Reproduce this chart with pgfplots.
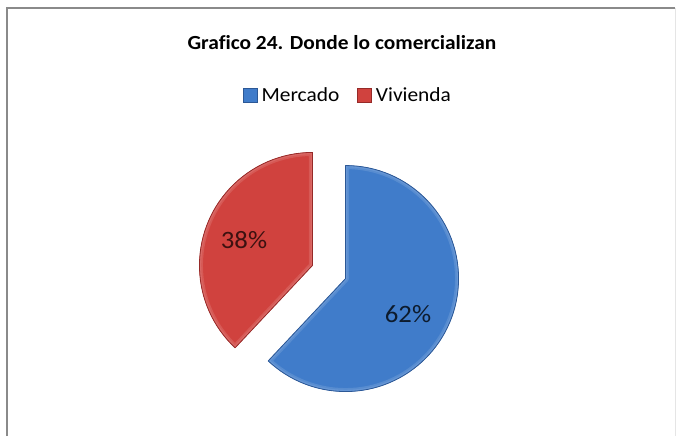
\documentclass[border=0pt]{standalone}
\usepackage{pgfplots}
\pgfplotsset{compat=1.18}
\usepackage{fontspec}
\setmainfont{Carlito}[FakeStretch=1.07, Ligatures=NoCommon]

\definecolor{pieblue}{RGB}{64,124,202}
\definecolor{pieblueD}{RGB}{44,88,150}
\definecolor{piered}{RGB}{208,66,62}
\definecolor{pieredD}{RGB}{150,42,40}
\definecolor{framegray}{RGB}{138,138,138}

% shares (percent)
\def\vMercado{62}
\def\vVivienda{38}

\begin{document}
\begin{tikzpicture}
% angles: start at the top, clockwise
\pgfmathsetmacro\aS{90}
\pgfmathsetmacro\aM{90-\vMercado*3.6}
\pgfmathsetmacro\aE{\aM-\vVivienda*3.6}
\pgfmathsetmacro\mA{(\aS+\aM)/2}
\pgfmathsetmacro\mB{(\aM+\aE)/2}
% slice outlines, each pulled 17.8 out of the centre
\def\sliceA{(axis cs:329,164) ++(\mA:17.8pt) -- ++(\aS:113pt)
    arc[start angle=\aS, end angle=\aM, radius=113pt] -- cycle}
\def\sliceB{(axis cs:329,164) ++(\mB:17.8pt) -- ++(\aM:113pt)
    arc[start angle=\aM, end angle=\aE, radius=113pt] -- cycle}
\begin{axis}[
  x=1pt, y=1pt,
  xmin=0, xmax=677, ymin=0, ymax=436,
  hide axis, clip=false,
  legend columns=2,
  legend style={at={(axis cs:348,341)}, anchor=center, draw=none, fill=none,
    font=\fontsize{20}{23}\selectfont,
    /tikz/every odd column/.append style={column sep=2pt},
    /tikz/every even column/.append style={column sep=16pt}},
  legend image code/.code={\draw[#1] (0pt,-7pt) rectangle (14pt,7pt);},
]
  \path (axis cs:0,0) rectangle (axis cs:677,436);
  % frame
  \draw[framegray, line width=2pt] (axis cs:7,0) -- (axis cs:7,428) -- (axis cs:675,428);
  \draw[black!10, line width=1pt] (axis cs:675,428) -- (axis cs:675,0);

  \addlegendimage{fill=pieblue, draw=pieblueD, line width=0.6pt}
  \addlegendentry{Mercado}
  \addlegendimage{fill=piered, draw=pieredD, line width=0.6pt}
  \addlegendentry{Vivienda}

  \fill[pieblue] \sliceA;
  \begin{scope}
    \clip \sliceA;
    \draw[pieblue!88!white, line width=7pt, line join=round] \sliceA;
    \draw[pieblue!80!white, line width=3.5pt, line join=round] \sliceA;
  \end{scope}
  \draw[pieblueD, line width=0.8pt, line join=round] \sliceA;

  \fill[piered] \sliceB;
  \begin{scope}
    \clip \sliceB;
    \draw[piered!88!white, line width=7pt, line join=round] \sliceB;
    \draw[piered!80!white, line width=3.5pt, line join=round] \sliceB;
  \end{scope}
  \draw[pieredD, line width=0.8pt, line join=round] \sliceB;

  \node[text=black!70!pieblueD, font=\fontsize{25}{28}\selectfont] at (axis cs:408,122) {\vMercado\%};
  \node[text=black!60!pieredD, font=\fontsize{25}{28}\selectfont] at (axis cs:244,196) {\vVivienda\%};

  \node[font=\bfseries\fontsize{20}{23}\selectfont] at (axis cs:342,393) {Grafico 24. Donde lo comercializan};
\end{axis}
\end{tikzpicture}
\end{document}
